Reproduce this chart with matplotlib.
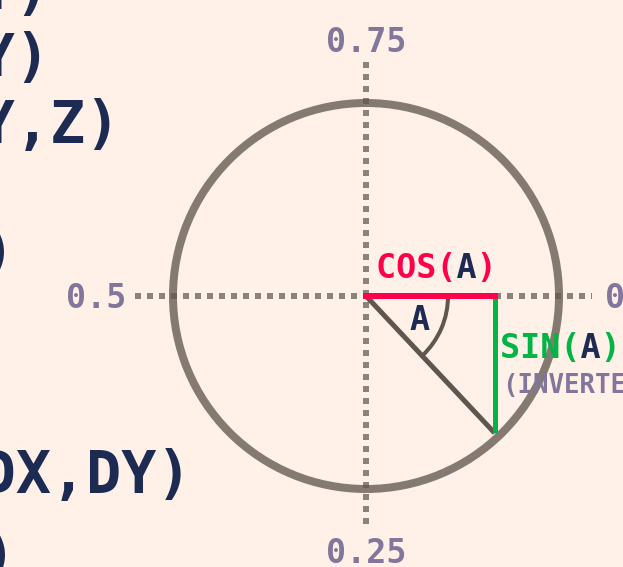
import numpy as np
import matplotlib
matplotlib.use("Agg")
import matplotlib.pyplot as plt
from matplotlib.patches import Circle, Arc

# ---------------- data ----------------
func_lines = ["MAX(X,Y)", "MIN(X,Y)", "MID(X,Y,Z)", "CEIL(X)", "ATAN2(DX,DY)", "SQRT(X)"]
tick_labels = ["0.75", "0.5", "0.25", "0"]
angle_a = 0.13          # PICO-8 angle (turns), sin inverted on screen
tri_radius = 0.973      # triangle drawn to inner edge of circle
arc_radius = 0.425

# ---------------- layout ----------------
W, H, DPI = 623, 567, 100
CX, CY, R = 366, 296, 193   # circle centre / radius in pixels


def px(x, y):
    return (x - CX) / R, (CY - y) / R


BG = "#FFF1E8"
NAVY = "#1D2B53"
RED = "#FF004D"
GREEN = "#00B543"
LAV = "#83769C"
DGRAY = "#5F574F"
MONO = "DejaVu Sans Mono"

fig = plt.figure(figsize=(W / DPI, H / DPI), dpi=DPI, facecolor=BG)
ax = fig.add_axes([0, 0, 1, 1])
ax.set_facecolor(BG)
x0, y0 = px(0, H)
x1, y1 = px(W, 0)
ax.set_xlim(x0, x1)
ax.set_ylim(y0, y1)
ax.set_aspect("equal")
ax.axis("off")

pt = 72 / DPI  # points per pixel

# dotted axes
hx0, _ = px(135, 0)
hx1, _ = px(592, 0)
_, vy0 = px(0, 62)
_, vy1 = px(0, 524)
ax.plot([hx0, hx1], [0, 0], color=DGRAY, alpha=0.72, lw=6 * pt,
        dashes=(1, 1), solid_capstyle="butt", dash_capstyle="butt", zorder=1)
ax.plot([0, 0], [vy0, vy1], color=DGRAY, alpha=0.72, lw=6 * pt,
        dashes=(1, 1), solid_capstyle="butt", dash_capstyle="butt", zorder=1)

# circle
ax.add_patch(Circle((0, 0), 1.0, fill=False, edgecolor=DGRAY, alpha=0.77,
                    lw=8 * pt, zorder=2))

# triangle
theta = 2 * np.pi * angle_a
cx_ = tri_radius * np.cos(theta)
sy_ = -tri_radius * np.sin(theta)
ax.plot([0, cx_], [0, sy_], color=DGRAY, lw=5 * pt, solid_capstyle="butt", zorder=3)
ax.plot([cx_, cx_], [0, sy_], color=GREEN, lw=5 * pt, solid_capstyle="butt", zorder=4)
ax.plot([0, cx_], [0, 0], color=RED, lw=6 * pt, solid_capstyle="projecting", zorder=5)
ax.add_patch(Arc((0, 0), 2 * arc_radius, 2 * arc_radius, theta1=-np.degrees(theta),
                 theta2=0, color=DGRAY, lw=4 * pt, zorder=3))

# tick labels
lab_kw = dict(family=MONO, weight="bold", fontsize=24, color=LAV, va="baseline")
ax.text(*px(366, 52), tick_labels[0], ha="center", **lab_kw)
ax.text(*px(126, 308), tick_labels[1], ha="right", **lab_kw)
ax.text(*px(366, 563), tick_labels[2], ha="center", **lab_kw)
ax.text(*px(605, 308), tick_labels[3], ha="left", **lab_kw)

# COS(A)
t_kw = dict(family=MONO, weight="bold", fontsize=24, va="baseline", ha="left", zorder=6)
ax.text(*px(376, 278), "COS( )", color=RED, **t_kw)
ax.text(*px(376, 278), "    A ", color=NAVY, **t_kw)
# SIN(A)
ax.text(*px(500, 358), "SIN( )", color=GREEN, **t_kw)
ax.text(*px(500, 358), "    A ", color=NAVY, **t_kw)
ax.text(*px(502, 393), "(INVERTED)", color=LAV, family=MONO, weight="bold",
        fontsize=18.5, va="baseline", ha="left")
# angle label
ax.text(*px(420, 330), "A", color=NAVY, family=MONO, weight="bold", fontsize=24,
        va="baseline", ha="center", zorder=6)

# left function list
baselines = [9, 76, 143, 271, 493, 574]
for s, b in zip(func_lines, baselines):
    ax.text(*px(-230, b), s, color=NAVY, family=MONO, weight="bold", fontsize=42,
            va="baseline", ha="left")

fig.savefig("out.png", dpi=DPI, facecolor=BG)
